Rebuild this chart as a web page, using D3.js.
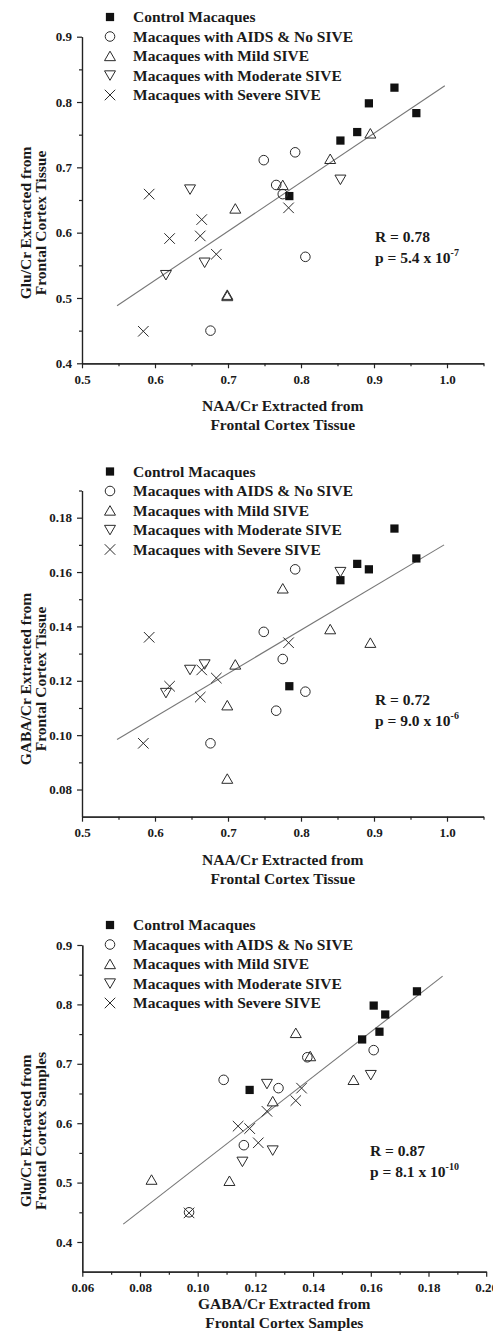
<!DOCTYPE html>
<html>
<head>
<meta charset="utf-8">
<script src="https://cdn.jsdelivr.net/npm/d3@7"></script>
<style>
  body { margin: 0; background: #fff; }
  svg text { font-family: "Liberation Serif", "Times New Roman", serif; font-weight: bold; fill: #1a1a1a; }
</style>
</head>
<body>
<svg id="chart" width="493" height="1340"></svg>
<script>
// groups / legend
const groupNames = [
  "Control Macaques",
  "Macaques with AIDS & No SIVE",
  "Macaques with Mild SIVE",
  "Macaques with Moderate SIVE",
  "Macaques with Severe SIVE"
];

// values (one entry per animal)
const controlNAA = [0.928, 0.893, 0.958, 0.877, 0.854, 0.784];
const controlGlu = [0.822, 0.798, 0.783, 0.754, 0.741, 0.656];
const controlGABA = [0.176, 0.161, 0.165, 0.163, 0.157, 0.118];

const aidsNAA = [0.749, 0.792, 0.766, 0.775, 0.806, 0.676];
const aidsGlu = [0.711, 0.723, 0.673, 0.659, 0.563, 0.450];
const aidsGABA = [0.138, 0.161, 0.109, 0.128, 0.116, 0.097];

const mildNAA = [0.895, 0.840, 0.775, 0.710, 0.699, 0.699];
const mildGlu = [0.752, 0.713, 0.673, 0.637, 0.503, 0.505];
const mildGABA = [0.134, 0.139, 0.154, 0.126, 0.111, 0.084];

const modNAA = [0.854, 0.648, 0.668, 0.615];
const modGlu = [0.681, 0.666, 0.554, 0.535];
const modGABA = [0.160, 0.124, 0.126, 0.1155];

const sevNAA = [0.592, 0.783, 0.664, 0.620, 0.662, 0.684, 0.584];
const sevGlu = [0.659, 0.638, 0.620, 0.591, 0.595, 0.567, 0.449];
const sevGABA = [0.136, 0.134, 0.124, 0.118, 0.114, 0.121, 0.097];

// fitted lines (end points)
const fitNAAGlu = [[0.548, 0.488], [0.997, 0.825]];
const fitNAAGABA = [[0.548, 0.0984], [0.996, 0.170]];
const fitGABAGlu = [[0.0742, 0.430], [0.1849, 0.8475]];

// tick labels
const naaTicks = [0.5, 0.6, 0.7, 0.8, 0.9, 1.0];
const gluTicks = [0.4, 0.5, 0.6, 0.7, 0.8, 0.9];
const gabaTicksY = [0.08, 0.10, 0.12, 0.14, 0.16, 0.18];
const gabaTicksX = [0.06, 0.08, 0.10, 0.12, 0.14, 0.16, 0.18, 0.20];

// stats text
const statR = ["R = 0.78", "R = 0.72", "R = 0.87"];
const statP = ["5.4", "9.0", "8.1"];
const statExp = ["-7", "-6", "-10"];

const groupsNAA = [controlNAA, aidsNAA, mildNAA, modNAA, sevNAA];
const groupsGlu = [controlGlu, aidsGlu, mildGlu, modGlu, sevGlu];
const groupsGABA = [controlGABA, aidsGABA, mildGABA, modGABA, sevGABA];

const svg = d3.select("#chart");
svg.append("rect").attr("width", 493).attr("height", 1340).attr("fill", "#fff");

const symbols = [
  { type: d3.symbolSquare, size: 68, fill: "#111" },
  { type: d3.symbolCircle, size: 72, fill: "none" },
  { type: d3.symbolTriangle2, size: 86, fill: "none" },
  { type: d3.symbolTriangle2, size: 86, fill: "none", rotate: 180 },
  { type: d3.symbolTimes, size: 74, fill: "none" }
];

function drawMarker(g, i, x, y) {
  const s = symbols[i];
  const dy = (i === 2) ? 1.5 : (i === 3 ? -1.5 : 0);
  g.append("path")
    .attr("d", d3.symbol().type(s.type).size(s.size)())
    .attr("transform", "translate(" + x + "," + (y + dy) + ")" + (s.rotate ? " rotate(" + s.rotate + ")" : ""))
    .attr("fill", s.fill)
    .attr("stroke", i === 0 ? "none" : "#2a2a2a")
    .attr("stroke-width", 1);
}

const panels = [
  {
    xs: groupsNAA, ys: groupsGlu,
    xDomain: [0.5, 1.05], xRange: [82, 483.5], xTicks: naaTicks, xFmt: ".1f", xStep: 0.05,
    yDomain: [0.4, 0.9], yRange: [363.3, 36.7], yTicks: gluTicks, yFmt: ".1f", yStep: 0.05,
    fit: fitNAAGlu, legendY: 17, stat: 0, statX: 375, statY: 241.5,
    xTitle: ["NAA/Cr Extracted from", "Frontal Cortex Tissue"], xTitleY: 411,
    yTitle: ["Glu/Cr Extracted from", "Frontal Cortex Tissue"], yTitleY: 223
  },
  {
    xs: groupsNAA, ys: groupsGABA,
    xDomain: [0.5, 1.05], xRange: [82, 483.5], xTicks: naaTicks, xFmt: ".1f", xStep: 0.05,
    yDomain: [0.07, 0.19], yRange: [816.7, 490.5], yTicks: gabaTicksY, yFmt: ".2f", yStep: 0.01,
    fit: fitNAAGABA, legendY: 471.5, stat: 1, statX: 375, statY: 705,
    xTitle: ["NAA/Cr Extracted from", "Frontal Cortex Tissue"], xTitleY: 865,
    yTitle: ["GABA/Cr Extracted from", "Frontal Cortex Tissue"], yTitleY: 679
  },
  {
    xs: groupsGABA, ys: groupsGlu,
    xDomain: [0.06, 0.20], xRange: [82.3, 486.2], xTicks: gabaTicksX, xFmt: ".2f", xStep: 0.01,
    yDomain: [0.35, 0.9], yRange: [1271.7, 945], yTicks: gluTicks, yFmt: ".1f", yStep: 0.05,
    fit: fitGABAGlu, legendY: 925, stat: 2, statX: 370, statY: 1156,
    xTitle: ["GABA/Cr Extracted from", "Frontal Cortex Samples"], xTitleY: 1309,
    yTitle: ["Glu/Cr Extracted from", "Frontal Cortex Samples"], yTitleY: 1131
  }
];

function minorValues(domain, step, majors) {
  const out = [];
  for (let v = domain[0]; v <= domain[1] + 1e-9; v += step) {
    const r = Math.round(v / step) * step;
    if (!majors.some(m => Math.abs(m - r) < 1e-9) && r > domain[0] + 1e-9) out.push(r);
  }
  return out;
}

panels.forEach((p) => {
  const x = d3.scaleLinear().domain(p.xDomain).range(p.xRange);
  const y = d3.scaleLinear().domain(p.yDomain).range(p.yRange);
  const g = svg.append("g");

  // axes
  const xAxis = g.append("g").attr("transform", "translate(0," + p.yRange[0] + ")")
    .call(d3.axisBottom(x).tickValues(p.xTicks).tickFormat(d3.format(p.xFmt)).tickSize(5).tickPadding(6).tickSizeOuter(0));
  g.append("g").attr("transform", "translate(0," + p.yRange[0] + ")")
    .call(d3.axisBottom(x).tickValues(minorValues(p.xDomain, p.xStep, p.xTicks)).tickFormat("").tickSize(3).tickSizeOuter(0));
  const yAxis = g.append("g").attr("transform", "translate(" + p.xRange[0] + ",0)")
    .call(d3.axisLeft(y).tickValues(p.yTicks).tickFormat(d3.format(p.yFmt)).tickSize(5).tickPadding(5).tickSizeOuter(0));
  g.append("g").attr("transform", "translate(" + p.xRange[0] + ",0)")
    .call(d3.axisLeft(y).tickValues(minorValues(p.yDomain, p.yStep, p.yTicks)).tickFormat("").tickSize(3).tickSizeOuter(0));

  g.selectAll(".domain, .tick line").attr("stroke", "#222").attr("stroke-width", 1.2);
  g.selectAll(".tick text").style("font-size", "13px").attr("fill", "#1a1a1a");

  // fit line
  g.append("line")
    .attr("x1", x(p.fit[0][0])).attr("y1", y(p.fit[0][1]))
    .attr("x2", x(p.fit[1][0])).attr("y2", y(p.fit[1][1]))
    .attr("stroke", "#777").attr("stroke-width", 1.1);

  // points
  p.xs.forEach((arr, gi) => {
    arr.forEach((v, j) => drawMarker(g, gi, x(v), y(p.ys[gi][j])));
  });

  // legend
  groupNames.forEach((name, i) => {
    const ly = p.legendY + i * 19.5;
    drawMarker(g, i, 110, ly);
    g.append("text").attr("x", 133).attr("y", ly + 5).style("font-size", "15.5px").text(name);
  });

  // stats
  g.append("text").attr("x", p.statX).attr("y", p.statY).style("font-size", "15.5px").text(statR[p.stat]);
  const pt = g.append("text").attr("x", p.statX).attr("y", p.statY + 21).style("font-size", "15.5px");
  pt.append("tspan").text("p = " + statP[p.stat] + " x 10");
  pt.append("tspan").attr("dy", -7).style("font-size", "10px").text(statExp[p.stat]);

  // axis titles
  const xc = (p.xRange[0] + p.xRange[1]) / 2;
  p.xTitle.forEach((t, i) => {
    g.append("text").attr("x", xc).attr("y", p.xTitleY + i * 19)
      .attr("text-anchor", "middle").style("font-size", "15.5px").text(t);
  });
  p.yTitle.forEach((t, i) => {
    g.append("text")
      .attr("transform", "translate(" + (31 + i * 15) + "," + p.yTitleY + ") rotate(-90)")
      .attr("text-anchor", "middle").style("font-size", "15.5px").text(t);
  });
});
</script>
</body>
</html>
